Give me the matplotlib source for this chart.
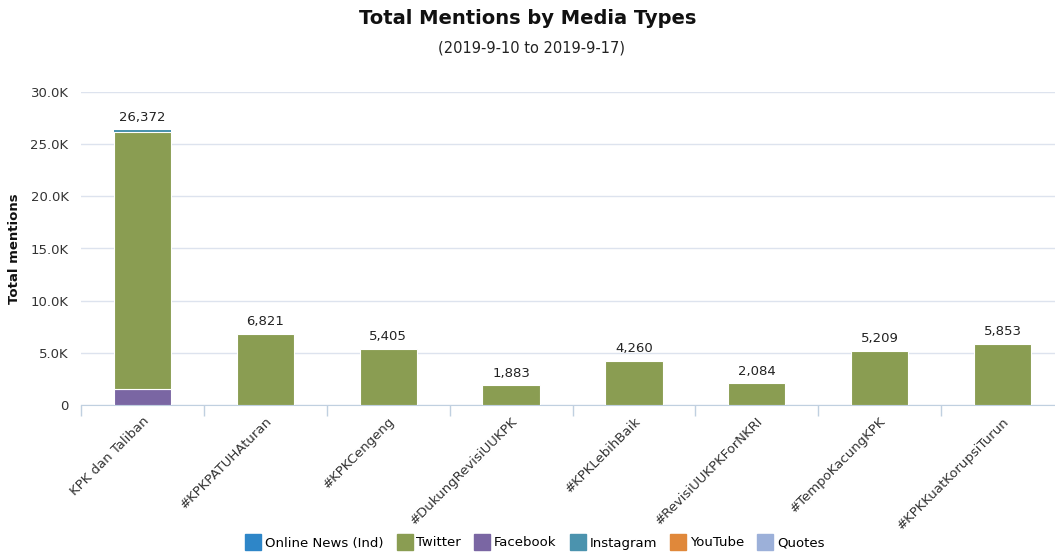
import matplotlib
matplotlib.use("Agg")
import matplotlib.pyplot as plt
import numpy as np
from matplotlib.lines import Line2D

plt.rcParams["font.family"] = ["DejaVu Sans"]

categories = ["KPK dan Taliban", "#KPKPATUHAturan", "#KPKCengeng", "#DukungRevisiUUKPK",
              "#KPKLebihBaik", "#RevisiUUKPKForNKRI", "#TempoKacungKPK", "#KPKKuatKorupsiTurun"]
series_names = ["Online News (Ind)", "Twitter", "Facebook", "Instagram", "YouTube", "Quotes"]
online_news = [60, 0, 0, 0, 0, 0, 0, 0]
twitter = [24602, 6821, 5405, 1883, 4260, 2084, 5209, 5853]
facebook = [1560, 0, 0, 0, 0, 0, 0, 0]
instagram = [150, 0, 0, 0, 0, 0, 0, 0]
youtube = [0, 0, 0, 0, 0, 0, 0, 0]
quotes = [0, 0, 0, 0, 0, 0, 0, 0]

colors = {"Online News (Ind)": "#2e86c8", "Twitter": "#8a9d52", "Facebook": "#7a66a3",
          "Instagram": "#4b93ae", "YouTube": "#e0883a", "Quotes": "#9cb0d9"}

fig = plt.figure(figsize=(10.55, 5.54), dpi=100)
ax = fig.add_axes([81 / 1055, 149 / 554, 983 / 1055, 313 / 554])

x = np.arange(len(categories))
# stacking order bottom-up as in the reference (Facebook at bottom)
stack = [("Facebook", facebook), ("Twitter", twitter), ("Instagram", instagram),
         ("Online News (Ind)", online_news), ("YouTube", youtube), ("Quotes", quotes)]
bottom = np.zeros(len(categories))
for name, vals in stack:
    v = np.array(vals, dtype=float)
    lw = 0.8 if name in ("Facebook", "Twitter") else 0
    ax.bar(x, v, bottom=bottom, width=0.465, color=colors[name],
           edgecolor="white", linewidth=lw, zorder=3)
    bottom += v

totals = bottom
for xi, t in zip(x, totals):
    ax.annotate(f"{int(t):,}", (xi, t), xytext=(0, 4), textcoords="offset points",
                ha="center", va="bottom", fontsize=9.5, color="#222222", zorder=4)

ax.set_xlim(-0.5, len(categories) - 0.5)
ax.set_ylim(0, 30000)
yt = [0, 5000, 10000, 15000, 20000, 25000, 30000]
ax.set_yticks(yt)
ax.set_yticklabels(["0" if v == 0 else f"{v/1000:.1f}K" for v in yt])
ax.yaxis.grid(True, color="#dde3ee", linewidth=1, zorder=0)
ax.set_axisbelow(True)
for s in ["top", "right", "left"]:
    ax.spines[s].set_visible(False)
ax.spines["bottom"].set_color("#c0d0e0")
ax.tick_params(axis="y", length=0, labelsize=9.5, colors="#333333", pad=9)

ax.set_xticks(x)
ax.set_xticklabels(categories, rotation=45, ha="right", rotation_mode="anchor",
                   fontsize=9.5, color="#333333")
ax.tick_params(axis="x", length=0, pad=7)
ax.set_xticks(np.arange(-0.5, len(categories), 1), minor=True)
ax.tick_params(axis="x", which="minor", length=8, color="#c0d0e0", width=1)

ax.set_ylabel("Total mentions", fontsize=9.5, fontweight="bold", color="#111111", labelpad=7)

fig.text(528 / 1055, 1 - 19 / 554, "Total Mentions by Media Types", ha="center", va="center",
         fontsize=14, fontweight="bold", color="#111111")
fig.text(532 / 1055, 1 - 48 / 554, "(2019-9-10 to 2019-9-17)", ha="center", va="center",
         fontsize=10.5, color="#222222")

handles = [Line2D([0], [0], marker="s", linestyle="none", markersize=11,
                  markerfacecolor=colors[n], markeredgecolor=colors[n]) for n in series_names]
fig.legend(handles, series_names, loc="center", bbox_to_anchor=(535 / 1055, 1 - 543 / 554),
           ncol=6, frameon=False, fontsize=9.5, handletextpad=0.3, columnspacing=1.0,
           handlelength=1.2)

fig.savefig("out.png", dpi=100, facecolor="white")
